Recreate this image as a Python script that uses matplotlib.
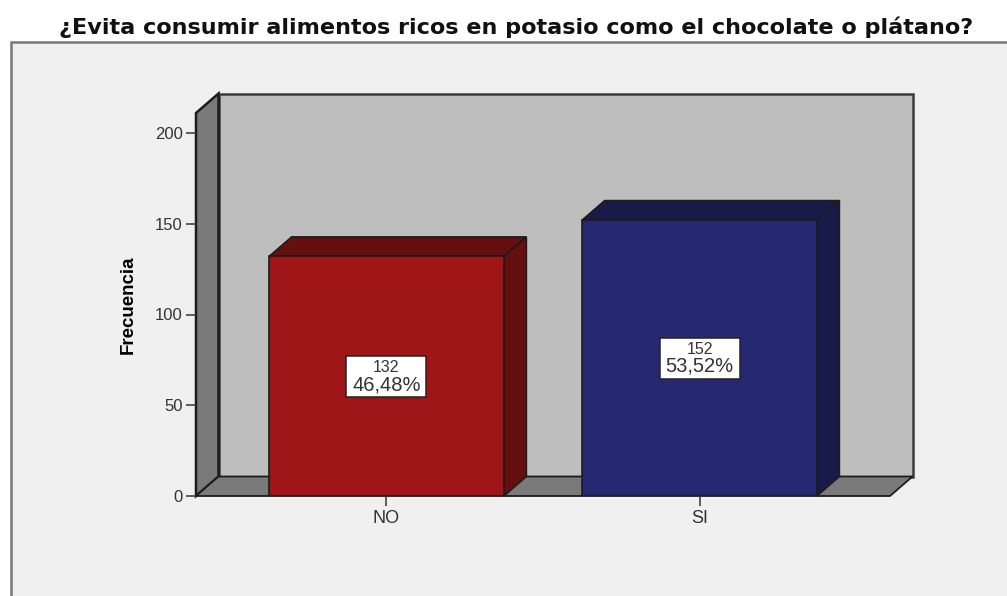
import matplotlib
matplotlib.use('Agg')
import matplotlib.pyplot as plt
from matplotlib.patches import Polygon, Rectangle

W, H = 1007, 596

# data
categories = ['NO', 'SI']
counts = [132, 152]
percents = ['46,48%', '53,52%']
yticks = [0, 50, 100, 150, 200]
title = '¿Evita consumir alimentos ricos en potasio como el chocolate o plátano?'

face_colors = ['#a01518', '#262872']
top_colors = ['#65100f', '#181a4a']
edge = '#1c1c1c'

plt.rcParams['font.family'] = ['Liberation Sans', 'DejaVu Sans']

fig = plt.figure(figsize=(W / 100, H / 100), dpi=100, facecolor='white')

# grey panel behind the plot, open to the right and bottom
fig.add_artist(Rectangle((11 / W, -0.02), 1.02, 1.02 - 42.5 / H, transform=fig.transFigure,
                         facecolor='#f0f0f0', edgecolor='#777777', linewidth=1.8, zorder=-1))

# front plane of the 3D box, in pixels
left, right, bottom, top = 196, 890, 496, 113
ax = fig.add_axes([left / W, 1 - bottom / H, (right - left) / W, (bottom - top) / H])
ax.set_xlim(-0.6086, 1.6086)
ax.set_ylim(0, (bottom - top) / 1.815)
ax.patch.set_visible(False)
for s in ax.spines.values():
    s.set_visible(False)

# depth of the box in data units
dx = 22.5 / 313
dy = 19.5 / 1.815
x0, x1 = ax.get_xlim()
y0, y1 = ax.get_ylim()


def poly(pts, fc, lw=1.3, ec=edge, z=1):
    ax.add_patch(Polygon(pts, closed=True, facecolor=fc, edgecolor=ec, linewidth=lw,
                         zorder=z, clip_on=False, joinstyle='miter'))


# back wall, side wall and floor
poly([(x0 + dx, y0 + dy), (x1 + dx, y0 + dy), (x1 + dx, y1 + dy), (x0 + dx, y1 + dy)], '#bebebe', lw=1.8, ec='#3c3c3c')
poly([(x0, y0), (x0 + dx, y0 + dy), (x0 + dx, y1 + dy), (x0, y1)], '#7a7a7a', lw=1.8)
poly([(x0, y0), (x1, y0), (x1 + dx, y0 + dy), (x0 + dx, y0 + dy)], '#7a7a7a', lw=1.3)

# bars
bar_w = 0.75
xpos = list(range(len(categories)))
ax.bar(xpos, counts, width=bar_w, color=face_colors, edgecolor=edge, linewidth=1.2, zorder=4)
for x, v, tc in zip(xpos, counts, top_colors):
    a, b = x - bar_w / 2, x + bar_w / 2
    poly([(a, v), (b, v), (b + dx, v + dy), (a + dx, v + dy)], tc, lw=1.2, z=3)
    poly([(b, 0), (b + dx, dy), (b + dx, v + dy), (b, v)], tc, lw=1.2, z=3)

# value boxes in the middle of the bars
box_w = 80 / 313
box_h = 41 / 1.815
for x, v, p in zip(xpos, counts, percents):
    ax.add_patch(Rectangle((x - box_w / 2, v / 2 - box_h / 2), box_w, box_h, facecolor='white',
                           edgecolor='#222222', linewidth=1.1, zorder=5))
    ax.text(x, v / 2 + 4.6, str(v), ha='center', va='center', fontsize=11.5, color='#333333', zorder=6)
    ax.text(x, v / 2 - 4.6, p, ha='center', va='center', fontsize=14.5, color='#333333', zorder=6)

ax.set_xticks(xpos, categories)
ax.set_yticks(yticks)
ax.tick_params(axis='both', length=7.5, width=1.1, color='#333333', labelcolor='#333333', labelsize=12, pad=2)
ax.tick_params(axis='x', labelsize=13, pad=2.5)

fig.text(128 / W, 1 - 305 / H, 'Frecuencia', rotation=90, ha='center', va='center', fontsize=13.5,
         fontweight='bold', family=['Liberation Sans Narrow', 'Liberation Sans'], color='black')
fig.text(516 / W, 1 - 27 / H, title, ha='center', va='center', fontsize=16.15, fontweight='bold',
         family='DejaVu Sans', color='#111111')

fig.savefig('out.png', dpi=100)
